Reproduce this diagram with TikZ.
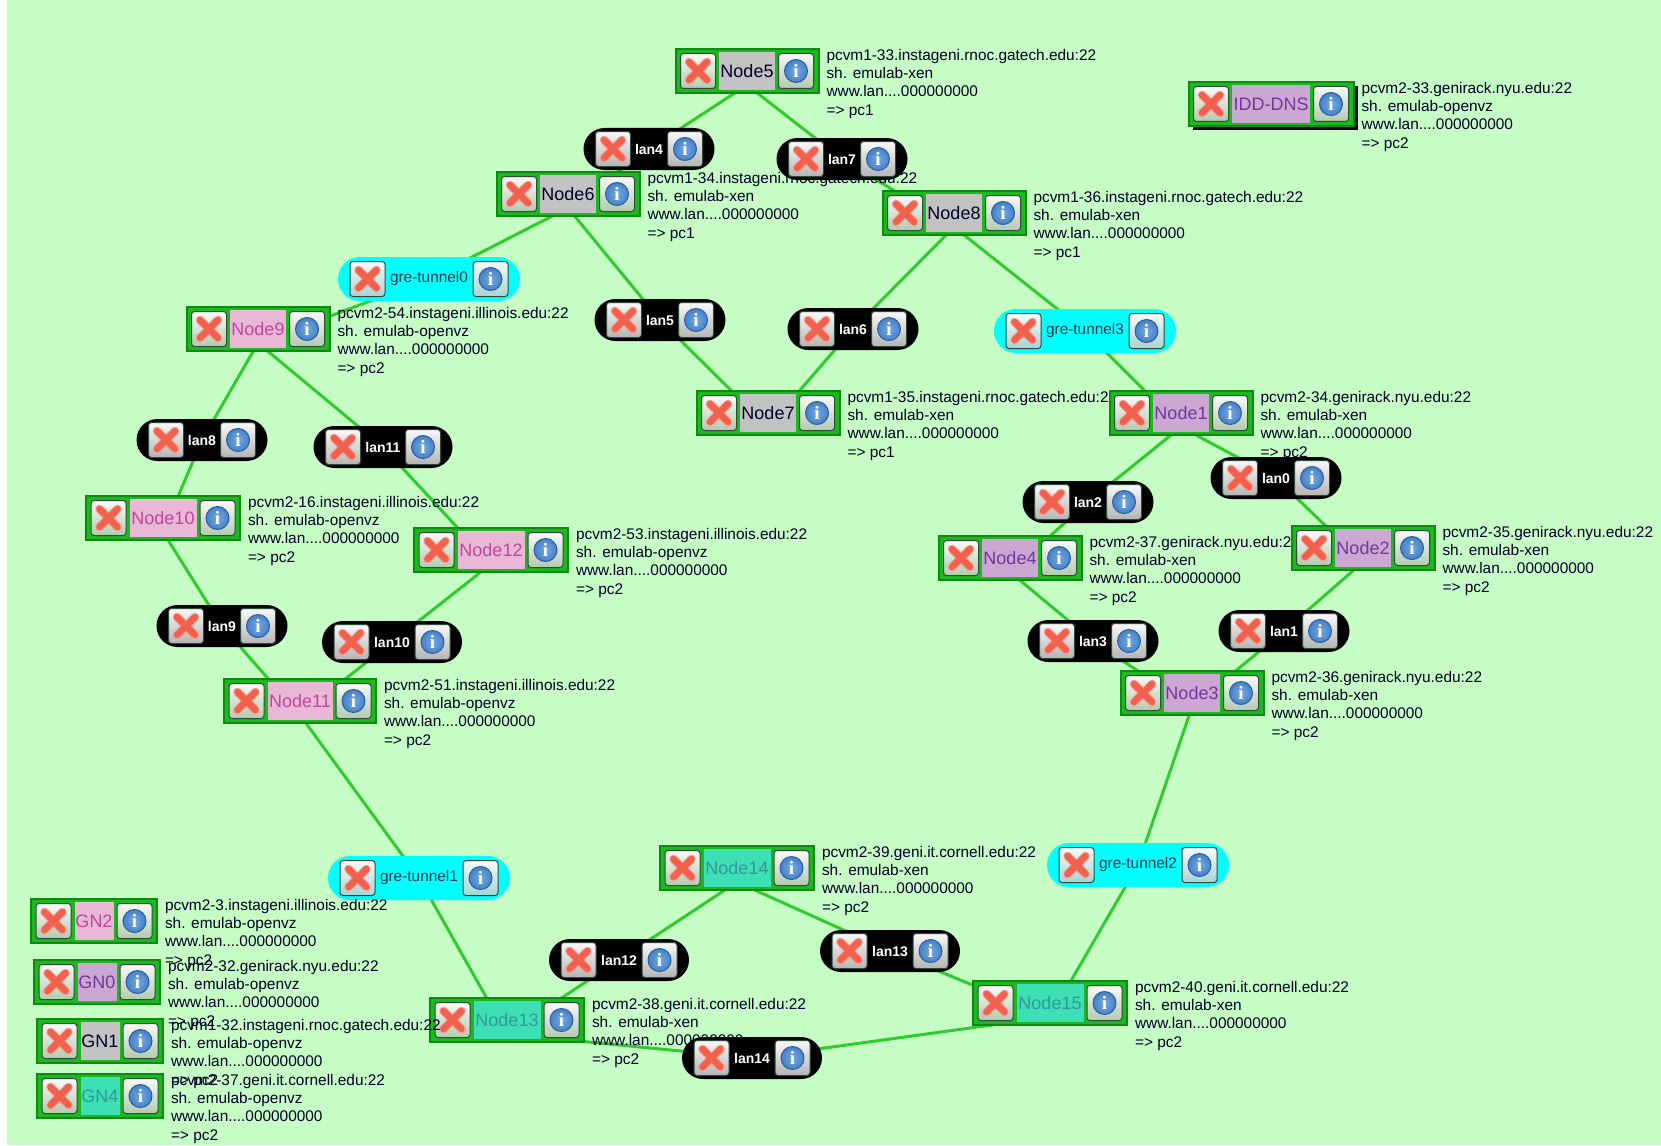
\documentclass[tikz,border=0pt]{standalone}
\usepackage{fontspec}
\setmainfont{Liberation Sans}
\newfontfamily\iconfont{Liberation Serif}
\usepackage{xcolor}
\definecolor{colorCanvas}{HTML}{C6FDC4}
\definecolor{colorLink}{HTML}{2FCB2F}
\definecolor{colorBoxEdge}{HTML}{0E8A10}
\definecolor{colorBox}{HTML}{1DB81F}
\definecolor{colorCross}{HTML}{F2604E}
\definecolor{colorGrayFill}{HTML}{C2C2C2}
\definecolor{colorPinkFill}{HTML}{E8B8D6}
\definecolor{colorPinkText}{HTML}{C0469C}
\definecolor{colorPurpleFill}{HTML}{CBA8D2}
\definecolor{colorPurpleText}{HTML}{74359E}
\definecolor{colorTealFill}{HTML}{3CE0B4}
\definecolor{colorTealText}{HTML}{35979A}
\definecolor{colorBtnGreen}{HTML}{B2CAAE}
\definecolor{colorBtnBlack}{HTML}{B4B4B4}
\definecolor{colorBtnCyan}{HTML}{A4D4D4}
\definecolor{colorTunnel}{HTML}{00FFFF}
\definecolor{colorTunnelText}{HTML}{0A3A4A}
\definecolor{colorIconInner}{HTML}{74A8E2}
\definecolor{colorIconOuter}{HTML}{2F6DB8}
\definecolor{colorIconEdge}{HTML}{2A5FA0}
\definecolor{colorBtnEdge}{HTML}{2E4A38}
\usetikzlibrary{positioning, shadows, backgrounds}
\tikzset{
  link/.style={colorLink, line width=3pt},
  machine/.style={draw=colorBoxEdge, fill=colorBox, line width=2pt, minimum height=44pt, outer sep=0pt, inner sep=0pt},
  selected/.style={drop shadow={shadow xshift=4pt, shadow yshift=-4pt, fill=black, opacity=1}},
  pipe/.style={fill=black, minimum height=42pt, rounded corners=21pt, outer sep=0pt, inner sep=0pt, text=white, font=\fontsize{14}{14}\selectfont\bfseries},
  tunnel/.style={fill=colorTunnel, minimum height=44pt, rounded corners=22pt, outer sep=0pt, inner sep=0pt, text=colorTunnelText, font=\fontsize{15.4}{16}\selectfont},
  nodelabel/.style={minimum height=38pt, inner sep=0pt, outer sep=0pt, font=\fontsize{18}{18}\selectfont},
  labelGray/.style={fill=colorGrayFill, text=black!85!blue},
  labelPink/.style={fill=colorPinkFill, text=colorPinkText},
  labelPurple/.style={fill=colorPurpleFill, text=colorPurpleText},
  labelTeal/.style={fill=colorTealFill, text=colorTealText},
  infotext/.style={inner sep=0pt, outer sep=0pt, align=left, text=black!85!blue, font=\fontsize{15.4}{18.3}\selectfont},
  button/.style={draw=colorBtnEdge, line width=1pt, rounded corners=3pt, minimum size=35pt, inner sep=0pt, outer sep=0pt, top color=white!92!#1, bottom color=#1},
  closebtn/.style={button=#1, path picture={
    \draw[line width=8.5pt, line cap=round, colorCross!60!white] ([shift={(-9pt,-9pt)}]path picture bounding box.center) -- ([shift={(9pt,9pt)}]path picture bounding box.center);
    \draw[line width=8.5pt, line cap=round, colorCross!60!white] ([shift={(-9pt,9pt)}]path picture bounding box.center) -- ([shift={(9pt,-9pt)}]path picture bounding box.center);
    \draw[line width=6.5pt, line cap=round, colorCross] ([shift={(-9pt,-9pt)}]path picture bounding box.center) -- ([shift={(9pt,9pt)}]path picture bounding box.center);
    \draw[line width=6.5pt, line cap=round, colorCross] ([shift={(-9pt,9pt)}]path picture bounding box.center) -- ([shift={(9pt,-9pt)}]path picture bounding box.center);}},
  infobtn/.style={button=#1, text=white, font=\fontsize{19}{19}\iconfont\bfseries, path picture={
    \shade[draw=colorIconEdge, inner color=colorIconInner, outer color=colorIconOuter] (path picture bounding box.center) circle (11.5pt);}},
}
% machine box: [box options]{name}{x}{y}{width}{label style}{host}{image}{hardware}
\newcommand{\machinenode}[9][]{
\node[machine, minimum width=#5pt, #1] (#2) at (#3,#4) {};
\node[nodelabel, #6, minimum width={#5pt-87pt}] (#2label) at (#2.center) {#2};
\node[closebtn=colorBtnGreen, right=5pt of #2.west] (#2close) {};
\node[infobtn=colorBtnGreen, left=5pt of #2.east] (#2more) {i};
\node[infotext, anchor=north west] (#2info) at ([xshift=8pt]#2.north east) {#7\\sh. emulab-#8\\www.lan....000000000\\=> #9};
\coordinate (#2a) at ([yshift=-14pt]#2.center);
}
% link pill: {style}{name}{x}{y}{width}{button colour}
\newcommand{\linknode}[6]{
\node[#1, minimum width=#5pt] (#2) at (#3,#4) {#2};
\node[closebtn=#6, right=12pt of #2.west] (#2close) {};
\node[infobtn=#6, left=12pt of #2.east] (#2more) {i};
}
\begin{document}
\begin{tikzpicture}[x=1pt, y=-1pt]
\useasboundingbox (0,0) rectangle (1661,1145);
\machinenode{Node5}{747}{71}{143}{labelGray}{pcvm1-33.instageni.rnoc.gatech.edu:22}{xen}{pc1}
\machinenode{Node6}{568}{194}{143}{labelGray}{pcvm1-34.instageni.rnoc.gatech.edu:22}{xen}{pc1}
\machinenode{Node8}{954}{213}{143}{labelGray}{pcvm1-36.instageni.rnoc.gatech.edu:22}{xen}{pc1}
\machinenode{Node7}{768}{413}{143}{labelGray}{pcvm1-35.instageni.rnoc.gatech.edu:22}{xen}{pc1}
\machinenode[selected]{IDD-DNS}{1271}{104}{165}{labelPurple}{pcvm2-33.genirack.nyu.edu:22}{openvz}{pc2}
\machinenode{Node9}{258}{329}{143}{labelPink}{pcvm2-54.instageni.illinois.edu:22}{openvz}{pc2}
\machinenode{Node10}{163}{518}{154}{labelPink}{pcvm2-16.instageni.illinois.edu:22}{openvz}{pc2}
\machinenode{Node12}{491}{550}{154}{labelPink}{pcvm2-53.instageni.illinois.edu:22}{openvz}{pc2}
\machinenode{Node11}{300}{701}{152}{labelPink}{pcvm2-51.instageni.illinois.edu:22}{openvz}{pc2}
\machinenode{Node1}{1181}{413}{143}{labelPurple}{pcvm2-34.genirack.nyu.edu:22}{xen}{pc2}
\machinenode{Node4}{1010}{558}{143}{labelPurple}{pcvm2-37.genirack.nyu.edu:22}{xen}{pc2}
\machinenode{Node2}{1363}{548}{143}{labelPurple}{pcvm2-35.genirack.nyu.edu:22}{xen}{pc2}
\machinenode{Node3}{1192}{693}{143}{labelPurple}{pcvm2-36.genirack.nyu.edu:22}{xen}{pc2}
\machinenode{Node14}{737}{868}{154}{labelTeal}{pcvm2-39.geni.it.cornell.edu:22}{xen}{pc2}
\machinenode{Node15}{1050}{1003}{154}{labelTeal}{pcvm2-40.geni.it.cornell.edu:22}{xen}{pc2}
\machinenode{Node13}{507}{1020}{154}{labelTeal}{pcvm2-38.geni.it.cornell.edu:22}{xen}{pc2}
\linknode{pipe}{lan4}{649}{149}{131}{colorBtnBlack}
\linknode{pipe}{lan7}{842}{159}{131}{colorBtnBlack}
\linknode{pipe}{lan5}{660}{320}{131}{colorBtnBlack}
\linknode{pipe}{lan6}{853}{329}{131}{colorBtnBlack}
\linknode{pipe}{lan8}{202}{440}{131}{colorBtnBlack}
\linknode{pipe}{lan11}{383}{447}{139}{colorBtnBlack}
\linknode{pipe}{lan2}{1088}{502}{131}{colorBtnBlack}
\linknode{pipe}{lan0}{1276}{478}{131}{colorBtnBlack}
\linknode{pipe}{lan9}{222}{626}{131}{colorBtnBlack}
\linknode{pipe}{lan10}{392}{642}{140}{colorBtnBlack}
\linknode{pipe}{lan3}{1093}{641}{131}{colorBtnBlack}
\linknode{pipe}{lan1}{1284}{631}{131}{colorBtnBlack}
\linknode{pipe}{lan12}{619}{960}{140}{colorBtnBlack}
\linknode{pipe}{lan13}{890}{951}{140}{colorBtnBlack}
\linknode{pipe}{lan14}{752}{1058}{140}{colorBtnBlack}
\linknode{tunnel}{gre-tunnel0}{429}{279}{182}{colorBtnCyan}
\linknode{tunnel}{gre-tunnel3}{1085}{331}{182}{colorBtnCyan}
\linknode{tunnel}{gre-tunnel1}{419}{878}{182}{colorBtnCyan}
\linknode{tunnel}{gre-tunnel2}{1138}{865}{182}{colorBtnCyan}
\machinenode{GN2}{94}{921}{126}{labelPink}{pcvm2-3.instageni.illinois.edu:22}{openvz}{pc2}
\machinenode{GN0}{97}{982}{126}{labelPurple}{pcvm2-32.genirack.nyu.edu:22}{openvz}{pc2}
\machinenode{GN1}{100}{1041}{126}{labelGray}{pcvm1-32.instageni.rnoc.gatech.edu:22}{openvz}{pc2}
\machinenode{GN4}{100}{1096}{126}{labelTeal}{pcvm2-37.geni.it.cornell.edu:22}{openvz}{pc2}
\begin{pgfonlayer}{background}
\fill[white] (0,0) rectangle (7,1145);
\fill[colorCanvas] (7,0) rectangle (1661,1145);
\draw[link] (Node5a) -- (lan4.center);
\draw[link] (lan4.center) -- (Node6a);
\draw[link] (Node5a) -- (lan7.center);
\draw[link] (lan7.center) -- (Node8a);
\draw[link] (Node6a) -- (gre-tunnel0.center);
\draw[link] (gre-tunnel0.center) -- (Node9a);
\draw[link] (Node6a) -- (lan5.center);
\draw[link] (lan5.center) -- (Node7a);
\draw[link] (Node8a) -- (lan6.center);
\draw[link] (lan6.center) -- (Node7a);
\draw[link] (Node8a) -- (gre-tunnel3.center);
\draw[link] (gre-tunnel3.center) -- (Node1a);
\draw[link] (Node9a) -- (lan8.center);
\draw[link] (lan8.center) -- (Node10a);
\draw[link] (Node9a) -- (lan11.center);
\draw[link] (lan11.center) -- (Node12a);
\draw[link] (Node10a) -- (lan9.center);
\draw[link] (lan9.center) -- (Node11a);
\draw[link] (Node12a) -- (lan10.center);
\draw[link] (lan10.center) -- (Node11a);
\draw[link] (Node11a) -- (gre-tunnel1.center);
\draw[link] (gre-tunnel1.center) -- (Node13a);
\draw[link] (Node1a) -- (lan2.center);
\draw[link] (lan2.center) -- (Node4a);
\draw[link] (Node1a) -- (lan0.center);
\draw[link] (lan0.center) -- (Node2a);
\draw[link] (Node4a) -- (lan3.center);
\draw[link] (lan3.center) -- (Node3a);
\draw[link] (Node2a) -- (lan1.center);
\draw[link] (lan1.center) -- (Node3a);
\draw[link] (Node3a) -- (gre-tunnel2.center);
\draw[link] (gre-tunnel2.center) -- (Node15a);
\draw[link] (Node14a) -- (lan12.center);
\draw[link] (lan12.center) -- (Node13a);
\draw[link] (Node14a) -- (lan13.center);
\draw[link] (lan13.center) -- (Node15a);
\draw[link] (Node13a) -- (lan14.center);
\draw[link] (lan14.center) -- (Node15a);
\end{pgfonlayer}
\end{tikzpicture}
\end{document}
